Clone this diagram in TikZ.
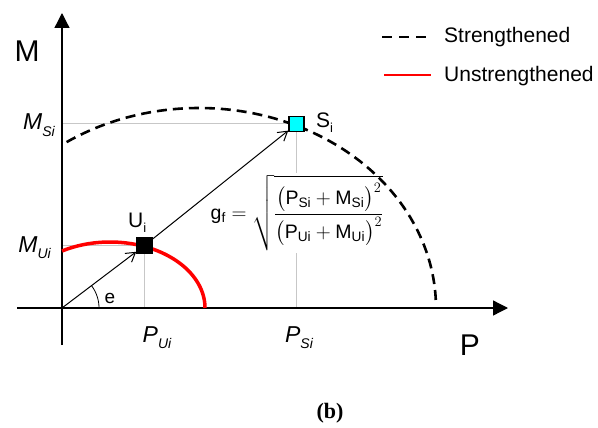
\documentclass[tikz,border=0pt]{standalone}
\usepackage{amsmath}
\usepackage{fontspec}
\setmainfont{Liberation Sans}
\newfontfamily\capfont{Liberation Serif}
\usetikzlibrary{arrows.meta}
\definecolor{aqua}{RGB}{0,255,255}
\definecolor{pure red}{RGB}{255,0,0}
\newcommand{\itlab}[2]{{\fontsize{23}{23}\selectfont\itshape #1\raisebox{-6pt}{\fontsize{14}{14}\selectfont #2}}}
\newcommand{\uplab}[2]{{\fontsize{21}{21}\selectfont #1\raisebox{-5pt}{\fontsize{13}{13}\selectfont #2}}}
\newcommand{\rmsub}[2]{\mathrm{#1}_{\mathrm{#2}}}
\tikzset{
  axis/.style={line width=1.3pt, -{Triangle[length=15pt,width=15pt]}},
  guide/.style={draw=black!22, line width=1pt},
  vec/.style={line width=1pt, -{Straight Barb[length=9pt,width=11pt,line width=1pt]}},
  strong/.style={line width=2.6pt, dash pattern=on 10pt off 6pt},
  weak/.style={draw=pure red, line width=3.5pt},
  pt/.style={minimum size=15pt, inner sep=0pt, draw=black, line width=1.6pt},
  lbl/.style={inner sep=0pt},
}
\begin{document}
\begin{tikzpicture}[x=1pt,y=-1pt]
\useasboundingbox (0,0) rectangle (598,428);
% coordinates
\coordinate (O) at (62,308);
\coordinate (yb) at (62,345);
\coordinate (yt) at (62,13);
\coordinate (xl) at (17,308);
\coordinate (xr) at (508,308);
\coordinate (Sc) at (296.5,124);
\coordinate (Uc) at (144.5,245.5);
\coordinate (ySi) at (62,124);
\coordinate (xSi) at (296.5,308);
\coordinate (yUi) at (62,245.5);
\coordinate (xUi) at (144.5,308);
% guide lines
\draw[guide] (ySi) -- (Sc) -- (xSi);
\draw[guide] (yUi) -- (Uc) -- (xUi);
% formula
\node[fill=white, inner sep=2pt] (F) at (297,213) {\fontsize{19.5}{24}\selectfont
 $\rmsub{g}{f} = \sqrt{\dfrac{\bigl(\rmsub{P}{Si}+\rmsub{M}{Si}\bigr)^{2}}{\bigl(\rmsub{P}{Ui}+\rmsub{M}{Ui}\bigr)^{2}}}$};
% axes
\draw[axis] (yb) -- (yt);
\draw[axis] (xl) -- (xr);
% curves
\draw[weak] plot[domain=0:120.3, samples=80, smooth] ({110+95*cos(\x)},{308-66*sin(\x)});
\draw[strong] plot[domain=2.3:125.3, samples=100, smooth] ({199+237*cos(\x)},{308-200*sin(\x)});
% angle
\draw[line width=0.8pt] plot[domain=0:37, samples=30, smooth] ({62+37*cos(\x)},{308-37*sin(\x)});
\node[lbl] (e) at (110,298) {\fontsize{19}{19}\selectfont e};
% points
\node[pt, fill=black] (U) at (Uc) {};
\node[pt, fill=aqua] (S) at (Sc) {};
\draw[vec] (O) -- (U);
\draw[vec] (U) -- (S);
% labels
\node[lbl, anchor=center] (M) at (27,51) {\fontsize{30}{30}\selectfont M};
\node[lbl, anchor=center] (P) at (470,345) {\fontsize{30}{30}\selectfont P};
\node[lbl, anchor=base east] (MSi) at (55,130) {\itlab{M}{Si}};
\node[lbl, anchor=base east] (MUi) at (51,252) {\itlab{M}{Ui}};
\node[lbl, anchor=base] (PUi) at (157,342) {\itlab{P}{Ui}};
\node[lbl, anchor=base] (PSi) at (299,342) {\itlab{P}{Si}};
\node[lbl, anchor=base west] (Ul) at (128,227) {\uplab{U}{i}};
\node[lbl, anchor=base west] (Sl) at (316,128) {\uplab{S}{i}};
% legend
\coordinate (l1a) at (382,37);
\coordinate (l1b) at (430,37);
\coordinate (l2a) at (384,75);
\coordinate (l2b) at (431,75);
\draw[line width=2.6pt, dash pattern=on 10pt off 7pt] (l1a) -- (l1b);
\draw[draw=pure red, line width=2.2pt] (l2a) -- (l2b);
\node[lbl, anchor=west] (t1) at (444,37) {\fontsize{21}{21}\selectfont Strengthened};
\node[lbl, anchor=west] (t2) at (444,76) {\fontsize{21}{21}\selectfont Unstrengthened};
% caption
\node[lbl] (cap) at (330,413) {\fontsize{22}{22}\selectfont\capfont\bfseries (b)};
\end{tikzpicture}
\end{document}
